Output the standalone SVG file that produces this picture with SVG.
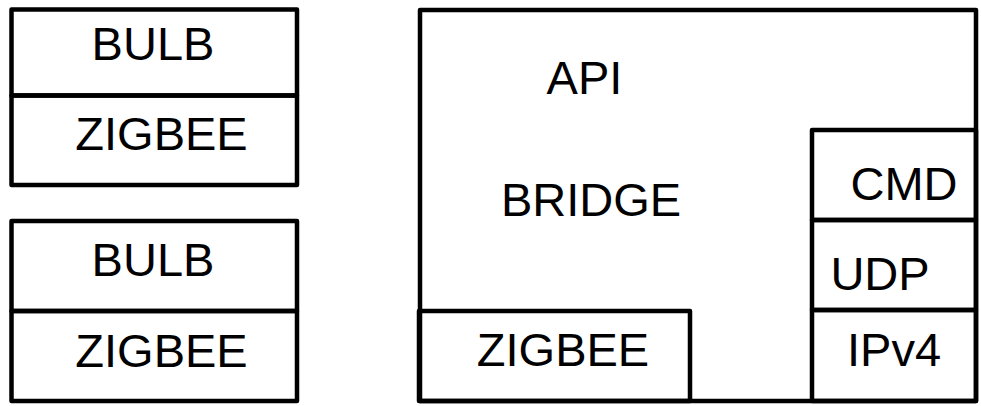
<svg xmlns="http://www.w3.org/2000/svg" width="981" height="406" viewBox="0 0 981 406">
<style>
.box{fill:none;stroke:#000;stroke-width:4.5;stroke-linejoin:round}
.t{font-family:"Liberation Sans",Arial,sans-serif;font-size:47px;fill:#000;text-anchor:middle}
</style>
<rect width="981" height="406" fill="#fff"/>
<g id="bulb1">
<rect class="box" x="11.5" y="9.5" width="285.5" height="86"/>
<text class="t" x="153" y="60">BULB</text>
</g>
<g id="zigbee1">
<rect class="box" x="11.5" y="95.5" width="285.5" height="89.5"/>
<text class="t" x="161.5" y="150">ZIGBEE</text>
</g>
<g id="bulb2">
<rect class="box" x="11.5" y="221" width="285.5" height="90"/>
<text class="t" x="153" y="276">BULB</text>
</g>
<g id="zigbee2">
<rect class="box" x="11.5" y="311" width="285.5" height="90"/>
<text class="t" x="161.5" y="367">ZIGBEE</text>
</g>
<g id="bridge">
<rect class="box" x="420" y="10" width="556" height="391"/>
<text class="t" x="584.5" y="94">API</text>
<text class="t" x="591" y="216">BRIDGE</text>
</g>
<g id="zigbee3">
<rect class="box" x="419" y="311" width="271" height="90"/>
<text class="t" x="563" y="366">ZIGBEE</text>
</g>
<g id="cmd">
<rect class="box" x="812" y="130" width="164" height="90"/>
<text class="t" x="904" y="200">CMD</text>
</g>
<g id="udp">
<rect class="box" x="812" y="220" width="164" height="90"/>
<text class="t" x="880" y="290">UDP</text>
</g>
<g id="ipv4">
<rect class="box" x="812" y="310" width="164" height="91"/>
<text class="t" x="894" y="366">IPv4</text>
</g>
<g id="connectors"/>
</svg>
